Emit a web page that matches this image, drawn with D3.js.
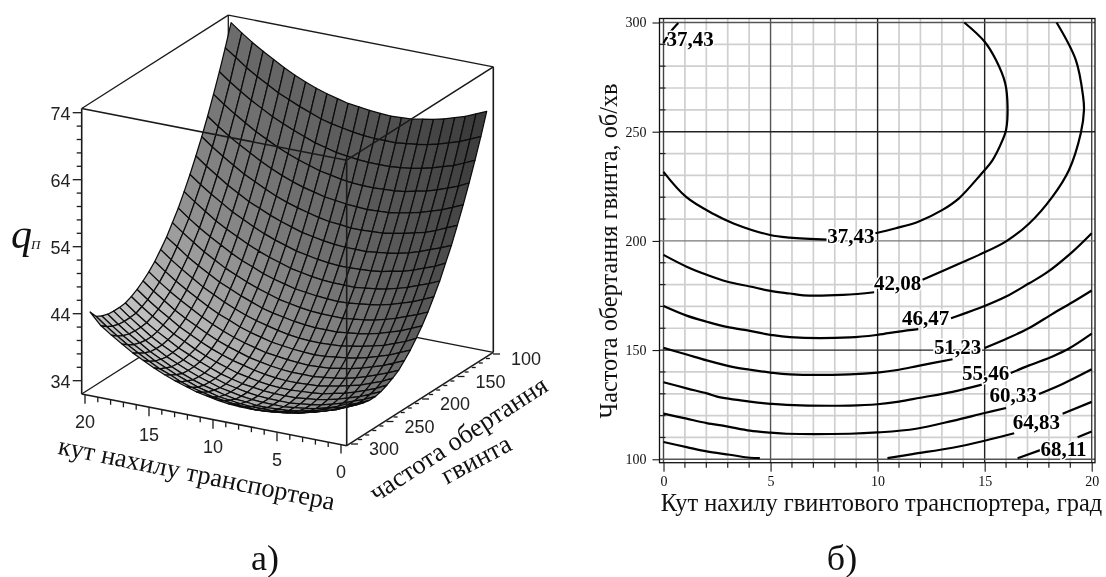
<!DOCTYPE html>
<html>
<head>
<meta charset="utf-8">
<script src="https://cdn.jsdelivr.net/npm/d3@7"></script>
<style>
body { margin: 0; background: #fff; }
svg { display: block; filter: blur(0.35px); }
text { font-family: "Liberation Serif", serif; fill: #111; }
.sans { font-family: "Liberation Sans", sans-serif; font-size: 18px; fill: #222; }
.tick text { font-family: "Liberation Serif", serif; font-size: 14px; }
</style>
</head>
<body>
<svg id="chart" width="1106" height="577"></svg>
<script>
// surface: rows go along tilt 0..20, columns along speed 100..300
const surfaceRows = [
[68.3,65.1,62.1,59.3,56.6,54.1,51.7,49.6,47.5,45.7,44.0,42.5,41.2,40.0,39.0,38.1,37.5,37.0,36.6,36.4,36.4,36.6,36.9,37.4,38.1],
[67.6,64.4,61.4,58.5,55.9,53.4,51.0,48.8,46.8,45.0,43.3,41.8,40.4,39.3,38.3,37.4,36.7,36.2,35.9,35.7,35.7,35.9,36.2,36.7,37.3],
[66.9,63.7,60.7,57.9,55.2,52.7,50.4,48.2,46.2,44.3,42.7,41.1,39.8,38.6,37.6,36.8,36.1,35.6,35.2,35.1,35.1,35.2,35.5,36.0,36.7],
[66.4,63.2,60.2,57.3,54.7,52.1,49.8,47.6,45.6,43.8,42.1,40.6,39.2,38.1,37.1,36.2,35.5,35.0,34.7,34.5,34.5,34.6,35.0,35.5,36.1],
[65.9,62.7,59.7,56.8,54.2,51.7,49.3,47.1,45.1,43.3,41.6,40.1,38.8,37.6,36.6,35.7,35.1,34.5,34.2,34.0,34.0,34.2,34.5,35.0,35.6],
[65.5,62.3,59.3,56.5,53.8,51.3,48.9,46.8,44.7,42.9,41.2,39.7,38.4,37.2,36.2,35.3,34.7,34.2,33.8,33.6,33.6,33.8,34.1,34.6,35.2],
[65.2,62.0,59.0,56.1,53.5,51.0,48.6,46.4,44.4,42.6,40.9,39.4,38.1,36.9,35.9,35.0,34.4,33.8,33.5,33.3,33.3,33.5,33.8,34.3,34.9],
[64.9,61.8,58.8,55.9,53.2,50.7,48.4,46.2,44.2,42.4,40.7,39.2,37.8,36.7,35.6,34.8,34.1,33.6,33.3,33.1,33.1,33.2,33.6,34.1,34.7],
[64.8,61.6,58.6,55.8,53.1,50.6,48.2,46.1,44.0,42.2,40.5,39.0,37.7,36.5,35.5,34.6,34.0,33.5,33.1,32.9,32.9,33.1,33.4,33.9,34.6],
[64.7,61.6,58.6,55.7,53.0,50.5,48.2,46.0,44.0,42.1,40.5,39.0,37.6,36.4,35.4,34.6,33.9,33.4,33.1,32.9,32.9,33.0,33.4,33.8,34.5],
[64.8,61.6,58.6,55.7,53.1,50.5,48.2,46.0,44.0,42.2,40.5,39.0,37.6,36.5,35.5,34.6,33.9,33.4,33.1,32.9,32.9,33.0,33.4,33.9,34.5],
[64.9,61.7,58.7,55.8,53.2,50.7,48.3,46.1,44.1,42.3,40.6,39.1,37.7,36.6,35.6,34.7,34.0,33.5,33.2,33.0,33.0,33.2,33.5,34.0,34.6],
[65.1,61.9,58.9,56.0,53.4,50.8,48.5,46.3,44.3,42.5,40.8,39.3,37.9,36.8,35.8,34.9,34.2,33.7,33.4,33.2,33.2,33.3,33.7,34.2,34.8],
[65.3,62.2,59.1,56.3,53.6,51.1,48.8,46.6,44.6,42.7,41.1,39.6,38.2,37.0,36.0,35.2,34.5,34.0,33.6,33.5,33.5,33.6,33.9,34.4,35.1],
[65.7,62.5,59.5,56.6,54.0,51.5,49.1,46.9,44.9,43.1,41.4,39.9,38.6,37.4,36.4,35.5,34.9,34.3,34.0,33.8,33.8,34.0,34.3,34.8,35.4],
[66.1,62.9,59.9,57.1,54.4,51.9,49.6,47.4,45.4,43.5,41.9,40.3,39.0,37.8,36.8,36.0,35.3,34.8,34.4,34.3,34.3,34.4,34.7,35.2,35.9],
[66.6,63.5,60.5,57.6,54.9,52.4,50.1,47.9,45.9,44.0,42.4,40.9,39.5,38.3,37.3,36.5,35.8,35.3,35.0,34.8,34.8,34.9,35.3,35.7,36.4],
[67.2,64.1,61.1,58.2,55.5,53.0,50.7,48.5,46.5,44.7,43.0,41.5,40.1,39.0,37.9,37.1,36.4,35.9,35.6,35.4,35.4,35.5,35.9,36.4,37.0],
[67.9,64.8,61.8,58.9,56.2,53.7,51.4,49.2,47.2,45.3,43.7,42.2,40.8,39.6,38.6,37.8,37.1,36.6,36.3,36.1,36.1,36.2,36.6,37.0,37.7],
[68.7,65.5,62.5,59.7,57.0,54.5,52.1,50.0,48.0,46.1,44.4,42.9,41.6,40.4,39.4,38.6,37.9,37.4,37.0,36.9,36.8,37.0,37.3,37.8,38.5],
[69.6,66.4,63.4,60.5,57.9,55.3,53.0,50.8,48.8,47.0,45.3,43.8,42.4,41.3,40.3,39.4,38.7,38.2,37.9,37.7,37.7,37.8,38.2,38.7,39.3],
[70.5,67.3,64.3,61.5,58.8,56.3,53.9,51.8,49.7,47.9,46.2,44.7,43.4,42.2,41.2,40.3,39.7,39.2,38.8,38.6,38.6,38.8,39.1,39.6,40.3],
[71.5,68.3,65.3,62.5,59.8,57.3,55.0,52.8,50.8,48.9,47.3,45.7,44.4,43.2,42.2,41.4,40.7,40.2,39.8,39.7,39.7,39.8,40.1,40.6,41.3],
[72.6,69.5,66.4,63.6,60.9,58.4,56.1,53.9,51.9,50.0,48.4,46.9,45.5,44.3,43.3,42.5,41.8,41.3,40.9,40.8,40.8,40.9,41.2,41.7,42.4],
[73.8,70.6,67.6,64.8,62.1,59.6,57.3,55.1,53.1,51.2,49.6,48.0,46.7,45.5,44.5,43.7,43.0,42.5,42.1,42.0,42.0,42.1,42.4,42.9,44.1]
];
const tiltTicks3d = [0, 5, 10, 15, 20];
const speedTicks3d = [100, 150, 200, 250, 300];
const qTicks3d = [34, 44, 54, 64, 74];

// contour lines as [tilt, speed], split where the labels sit
const line37a = [[0,290.6],[0.35,296],[0.69,299.8]];
const line37b = [[0,231.6],[1.07,220],[2.34,212.3],[3.27,208],[4.98,202.7],[5.9,201.5],[7.7,200.6]];
const line37c = [[9.9,203.5],[10.85,205.8],[11.9,208.8],[13.03,214.2],[13.8,219.5],[14.8,230.2],[15.37,237],[15.83,246],[16,250.8],[16.07,261.5],[15.96,272.2],[15.53,282.8],[15,291.2],[14.05,300]];
const line42a = [[0,193.6],[1.08,188.2],[2.02,184.5],[2.95,181.4],[4.04,179.1],[5,177.1],[5.9,175.9],[6.53,175.1],[8.38,175.3],[9.84,176.5]];
const line42b = [[12.1,182.2],[13.96,190.2],[14.74,193.6],[16,199.8],[17.08,208],[18.17,220.3],[18.94,232.5],[19.49,249.3],[19.64,260],[19.6,266],[19.26,282.8],[18.36,300]];
const line46a = [[0,170.2],[1.08,165.8],[2.02,163],[2.95,160.6],[4.04,158.8],[5,157],[5.9,155.9],[8.7,155.8],[10,157],[11,158.5],[11.9,159.6]];
const line46b = [[13.43,164.6],[15,170.2],[16,174.5],[17.08,180.6],[17.86,185.2],[19.1,195],[20,203.5]];
const line51a = [[0,151],[1.08,148],[2.02,145.3],[3.27,142.2],[4.04,141],[5,139.7],[5.9,138.9],[8.7,138.9],[10,139.7],[11,141],[11.9,142.8],[13.5,145.8]];
const line51b = [[15,151],[16,155.1],[17.08,160.1],[18.17,166.6],[19.1,171.9],[20,177.3]];
const line55a = [[0,135.3],[1.08,132.5],[2.02,130.2],[2.5,128.7],[4.04,126.4],[5,125.4],[5.75,124.9],[8.7,124.6],[10,125.2],[11,126.4],[12,128.2],[13.5,130.9],[14.87,134.2]];
const line55b = [[16.22,139.5],[17.08,143],[18.17,147.1],[18.94,150.7],[20,157.5]];
const line60a = [[0,120.9],[1.08,118.6],[2.02,116.6],[2.95,115.1],[4.04,113.1],[5,112.2],[5.75,111.7],[8.7,111.7],[10,112.3],[11.8,114],[13.5,117.6],[15,121.2],[16,123.5]];
const line60b = [[17.54,129.9],[18.64,134.5],[20,141.2]];
const line64a = [[0,107.9],[1.08,105.6],[2.02,103.6],[3.1,102.1],[4.04,100.7],[4.5,100.5]];
const line64b = [[10.46,100.5],[11.63,102.4],[13.5,105.3],[15,108.5],[16.38,111.9]];
const line64c = [[18.64,120.9],[20,126.3]];
const line68a = [[16.54,100.5],[17.63,104.3]];
const line68b = [[19.34,110.1],[20,112.7]];
const contourLines = [line37a, line37b, line37c, line42a, line42b, line46a, line46b, line51a, line51b, line55a, line55b, line60a, line60b, line64a, line64b, line64c, line68a, line68b];

const labelTexts = ["37,43", "37,43", "42,08", "46,47", "51,23", "55,46", "60,33", "64,83", "68,11"];
const labelTilt = [1.24, 8.75, 10.93, 12.24, 13.74, 15.05, 16.33, 17.42, 18.68];
const labelSpeed = [292.6, 202.1, 180.8, 164.9, 151.4, 139.7, 129.5, 117, 104.7];

const svg = d3.select("#chart");

// ---------- а) surface ----------
const surfX = { tilt: d3.scaleLinear([0, 20], [0, -255.6]), speed: d3.scaleLinear([300, 100], [345.7, 486.7]) };
const surfY = { tilt: d3.scaleLinear([0, 20], [0, -51.7]), speed: d3.scaleLinear([300, 100], [445, 355.2]), q: d3.scaleLinear([32, 74], [0, -282.2]) };
const project = (a, n, q) => [surfX.tilt(a) + surfX.speed(n), surfY.tilt(a) + surfY.speed(n) + surfY.q(q)];

// box is a little larger than the surface
const boxX = { tilt: d3.scaleLinear([0, 20], [0, -265]), speed: d3.scaleLinear([300, 100], [346.7, 493.3]) };
const boxY = { tilt: d3.scaleLinear([0, 20], [0, -51.7]), speed: d3.scaleLinear([300, 100], [445.7, 352.3]), lift: d3.scaleLinear([0, 1], [0, -285.5]) };
const corner = (a, n, l) => [boxX.tilt(a) + boxX.speed(n), boxY.tilt(a) + boxY.speed(n) + boxY.lift(l)];

function boxEdges(g, edges, width) {
    g.selectAll(null).data(edges).enter().append("line")
        .attr("x1", d => corner(...d[0])[0]).attr("y1", d => corner(...d[0])[1])
        .attr("x2", d => corner(...d[1])[0]).attr("y2", d => corner(...d[1])[1])
        .attr("stroke", "#1a1a1a").attr("stroke-width", width);
}

boxEdges(svg.append("g"), [
    [[20,100,0],[20,100,1]], [[20,300,0],[20,100,0]], [[0,100,0],[20,100,0]],
    [[20,300,1],[20,100,1]], [[0,100,1],[20,100,1]]
], 1.3);

const tiltGrid = d3.range(25).map(i => i * 20 / 24);
const speedGrid = d3.range(25).map(j => 100 + j * 200 / 24);
const cells = [];
d3.range(24).forEach(i => d3.range(24).forEach(j => {
    const z = surfaceRows;
    const p = ((z[i+1][j] - z[i][j]) + (z[i+1][j+1] - z[i][j+1])) / 2 / (20 / 24) * 20 / 42;
    const r = ((z[i][j] - z[i][j+1]) + (z[i+1][j] - z[i+1][j+1])) / 2 / (200 / 24) * 200 / 42;
    const b = (0.4 * p + 0.67) / Math.sqrt(1 + p * p + r * r);
    cells.push({
        order: i + 24 - j,
        gray: Math.max(30, Math.min(225, 250 * b)),
        pts: [[i,j],[i+1,j],[i+1,j+1],[i,j+1]].map(c => project(tiltGrid[c[0]], speedGrid[c[1]], z[c[0]][c[1]]))
    });
}));
cells.sort((u, v) => v.order - u.order);

svg.append("g").selectAll("path").data(cells).enter().append("path")
    .attr("d", d => "M" + d.pts.join("L") + "Z")
    .attr("fill", d => d3.rgb(d.gray, d.gray, d.gray))
    .attr("stroke", "#0c0c0c")
    .attr("stroke-width", 1.25)
    .attr("stroke-linejoin", "round");

boxEdges(svg.append("g"), [
    [[20,300,1],[0,300,1]], [[0,100,1],[0,300,1]], [[0,300,0],[0,300,1]],
    [[20,300,0],[20,300,1]], [[0,100,0],[0,100,1]],
    [[0,300,0],[20,300,0]], [[0,300,0],[0,100,0]]
], 1.6);

// axes of the box
const tiltAxisX = d3.scaleLinear([0, 20], [341, 85]);
const tiltAxisY = d3.scaleLinear([0, 20], [444.6, 394.8]);
const speedAxisX = d3.scaleLinear([100, 300], [493, 351]);
const speedAxisY = d3.scaleLinear([100, 300], [354, 444]);
const qAxisY = d3.scaleLinear([34, 74], [380.7, 112.7]);

const ticks3d = svg.append("g").attr("stroke", "#1a1a1a").attr("stroke-width", 1.3);
ticks3d.selectAll(null).data(d3.range(0, 21)).enter().append("line")
    .attr("x1", d => tiltAxisX(d)).attr("x2", d => tiltAxisX(d))
    .attr("y1", d => tiltAxisY(d)).attr("y2", d => tiltAxisY(d) + (d % 5 ? 5 : 9));
ticks3d.selectAll(null).data(d3.range(100, 301, 10)).enter().append("line")
    .attr("x1", d => speedAxisX(d)).attr("x2", d => speedAxisX(d) + (d % 50 ? 4 : 7))
    .attr("y1", d => speedAxisY(d)).attr("y2", d => speedAxisY(d));
ticks3d.selectAll(null).data(d3.range(34, 75, 2)).enter().append("line")
    .attr("x1", 81.7).attr("x2", d => 81.7 - ((d - 34) % 10 ? 5 : 9))
    .attr("y1", d => qAxisY(d)).attr("y2", d => qAxisY(d));

svg.selectAll(null).data(tiltTicks3d).enter().append("text").attr("class", "sans")
    .attr("x", d => tiltAxisX(d)).attr("y", d => tiltAxisY(d) + 27.5)
    .attr("text-anchor", "middle").attr("dominant-baseline", "central").text(d => d);
svg.selectAll(null).data(speedTicks3d).enter().append("text").attr("class", "sans")
    .attr("x", d => speedAxisX(d) + 33).attr("y", d => speedAxisY(d) + 5)
    .attr("text-anchor", "middle").attr("dominant-baseline", "central").text(d => d);
svg.selectAll(null).data(qTicks3d).enter().append("text").attr("class", "sans")
    .attr("x", 70.5).attr("y", d => qAxisY(d) + 1)
    .attr("text-anchor", "end").attr("dominant-baseline", "central").text(d => d);

svg.append("text").attr("transform", "translate(195,482) rotate(11.6)")
    .attr("text-anchor", "middle").attr("font-size", 26.5).text("кут нахилу транспортера");
svg.append("text").attr("transform", "translate(463,446) rotate(-33)")
    .attr("text-anchor", "middle").attr("font-size", 26.5).text("частота обертання");
svg.append("text").attr("transform", "translate(480,467) rotate(-28)")
    .attr("text-anchor", "middle").attr("font-size", 26.5).text("гвинта");
svg.append("text").attr("x", 11).attr("y", 248).attr("font-size", 42).attr("font-style", "italic").text("q");
svg.append("text").attr("x", 31).attr("y", 249).attr("font-size", 13).attr("font-style", "italic").text("П");
svg.append("text").attr("x", 265).attr("y", 570).attr("text-anchor", "middle").attr("font-size", 36).text("а)");

// ---------- б) contour map ----------
const x = d3.scaleLinear([0, 20], [663.5, 1091.7]);
const y = d3.scaleLinear([100, 300], [459.3, 22.5]);
const frame = { left: 659.5, right: 1095, top: 18.5, bottom: 462.7 };

const grid = svg.append("g");
grid.selectAll(null).data(d3.range(0, 21).filter(d => d % 5)).enter().append("line")
    .attr("x1", d => x(d)).attr("x2", d => x(d)).attr("y1", frame.top).attr("y2", frame.bottom)
    .attr("stroke", "#cfcfcf").attr("stroke-width", 1.7);
grid.selectAll(null).data(d3.range(100, 301, 10).filter(d => d % 50)).enter().append("line")
    .attr("y1", d => y(d)).attr("y2", d => y(d)).attr("x1", frame.left).attr("x2", frame.right)
    .attr("stroke", "#cfcfcf").attr("stroke-width", 1.7);

const axisX = svg.append("g").attr("transform", `translate(0,${frame.bottom})`)
    .call(d3.axisBottom(x).tickValues([0, 5, 10, 15, 20]).tickSize(9).tickPadding(4));
const axisY = svg.append("g").attr("transform", `translate(${frame.left},0)`)
    .call(d3.axisLeft(y).tickValues([100, 150, 200, 250, 300]).tickSize(7).tickPadding(6));
axisX.select(".domain").remove();
axisY.select(".domain").remove();

// major lines are not all equally dark in the picture
grid.selectAll(null).data([0, 5, 10, 15, 20]).enter().append("line")
    .attr("x1", d => x(d)).attr("x2", d => x(d)).attr("y1", frame.top).attr("y2", frame.bottom)
    .attr("stroke", d => d === 5 ? "#555" : d === 0 || d === 20 ? "#444" : "#222").attr("stroke-width", 1.4);
grid.selectAll(null).data([100, 150, 200, 250, 300]).enter().append("line")
    .attr("y1", d => y(d)).attr("y2", d => y(d)).attr("x1", frame.left).attr("x2", frame.right)
    .attr("stroke", d => d === 200 ? "#777" : d === 100 || d === 300 ? "#555" : "#222").attr("stroke-width", 1.4);

grid.selectAll(null).data(d3.range(0, 21).filter(d => d % 5)).enter().append("line")
    .attr("x1", d => x(d)).attr("x2", d => x(d)).attr("y1", frame.bottom).attr("y2", frame.bottom + 5)
    .attr("stroke", "#222").attr("stroke-width", 1.2);
grid.selectAll(null).data(d3.range(100, 301, 10).filter(d => d % 50)).enter().append("line")
    .attr("y1", d => y(d)).attr("y2", d => y(d)).attr("x1", frame.left).attr("x2", frame.left + 6)
    .attr("stroke", "#222").attr("stroke-width", 1.2);

const contour = d3.line().x(d => x(d[0])).y(d => y(d[1])).curve(d3.curveCatmullRom);
svg.append("g").selectAll("path").data(contourLines).enter().append("path")
    .attr("d", contour).attr("fill", "none").attr("stroke", "#000").attr("stroke-width", 2.2);

svg.append("g").selectAll("text").data(labelTexts).enter().append("text")
    .attr("x", (d, i) => x(labelTilt[i])).attr("y", (d, i) => y(labelSpeed[i]))
    .attr("text-anchor", "middle").attr("dominant-baseline", "central")
    .attr("font-size", 21).attr("font-weight", "bold")
    .attr("stroke", "#fff").attr("stroke-width", 3).attr("paint-order", "stroke")
    .style("fill", "#000").text(d => d);

svg.append("rect").attr("x", frame.left).attr("y", frame.top)
    .attr("width", frame.right - frame.left).attr("height", frame.bottom - frame.top)
    .attr("fill", "none").attr("stroke", "#111").attr("stroke-width", 1.3);

svg.append("text").attr("x", 881.5).attr("y", 511).attr("text-anchor", "middle")
    .attr("font-size", 24.4).text("Кут нахилу гвинтового транспортера, град");
svg.append("text").attr("transform", "translate(617,251) rotate(-90)").attr("text-anchor", "middle")
    .attr("font-size", 24.3).text("Частота обертання гвинта, об/хв");
svg.append("text").attr("x", 842).attr("y", 570).attr("text-anchor", "middle").attr("font-size", 36).text("б)");
</script>
</body>
</html>
